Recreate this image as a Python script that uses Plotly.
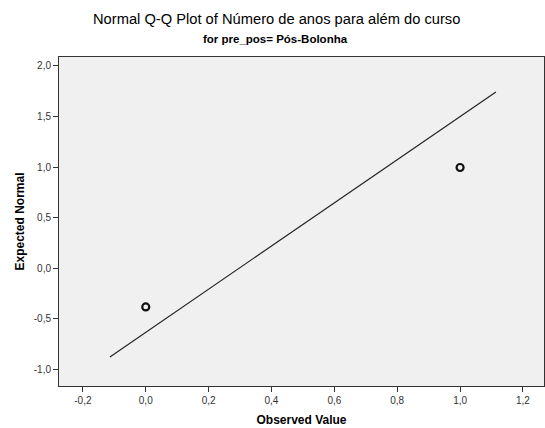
import plotly.graph_objects as go

# Observed values and their expected normal scores
observed = [0.0, 1.0]
expected = [-0.385, 0.995]

# Reference line endpoints
line_x = [-0.114, 1.114]
line_y = [-0.88, 1.743]

x_ticks = [-0.2, 0.0, 0.2, 0.4, 0.6, 0.8, 1.0, 1.2]
x_tick_labels = ["-0,2", "0,0", "0,2", "0,4", "0,6", "0,8", "1,0", "1,2"]
y_ticks = [-1.0, -0.5, 0.0, 0.5, 1.0, 1.5, 2.0]
y_tick_labels = ["-1,0", "-0,5", "0,0", "0,5", "1,0", "1,5", "2,0"]

fig = go.Figure()
fig.add_trace(go.Scatter(
    x=line_x, y=line_y, mode="lines",
    line=dict(color="#222222", width=1.2),
    hoverinfo="skip", showlegend=False,
))
fig.add_trace(go.Scatter(
    x=observed, y=expected, mode="markers",
    marker=dict(symbol="circle-open", size=7, color="#111111", line=dict(width=2.2, color="#111111")),
    showlegend=False,
))

font = "Liberation Sans, Arial, sans-serif"
fig.update_layout(
    width=545, height=428,
    margin=dict(l=59, r=1, t=57, b=42),
    paper_bgcolor="white",
    plot_bgcolor="#F0F0F0",
    font=dict(family=font, color="#000000"),
    annotations=[
        dict(text="Normal Q-Q Plot of Número de anos para além do curso",
             xref="paper", yref="paper", x=0.449, y=1, xanchor="center",
             yshift=38, yanchor="middle", showarrow=False,
             font=dict(size=14.7, family=font, color="#000000")),
        dict(text="<b>for pre_pos= Pós-Bolonha</b>",
             xref="paper", yref="paper", x=0.447, y=1, xanchor="center",
             yshift=18, yanchor="middle", showarrow=False,
             font=dict(size=11.5, family=font, color="#000000")),
    ],
    xaxis=dict(
        range=[-0.276, 1.267],
        tickmode="array", tickvals=x_ticks, ticktext=x_tick_labels,
        ticks="outside", ticklen=5, tickcolor="#333333", tickwidth=1,
        showgrid=False, zeroline=False,
        showline=True, linecolor="#333333", linewidth=1, mirror=True,
        tickfont=dict(size=10, color="#333333", family=font),
        title=dict(text="<b>Observed Value</b>", font=dict(size=12, family=font), standoff=10),
    ),
    yaxis=dict(
        range=[-1.168, 2.089],
        tickmode="array", tickvals=y_ticks, ticktext=y_tick_labels,
        ticks="outside", ticklen=5, tickcolor="#333333", tickwidth=1,
        showgrid=False, zeroline=False,
        showline=True, linecolor="#333333", linewidth=1, mirror=True,
        tickfont=dict(size=10, color="#333333", family=font),
        title=dict(text="<b>Expected Normal</b>", font=dict(size=12, family=font), standoff=6),
    ),
)

fig.write_html("out.html")
